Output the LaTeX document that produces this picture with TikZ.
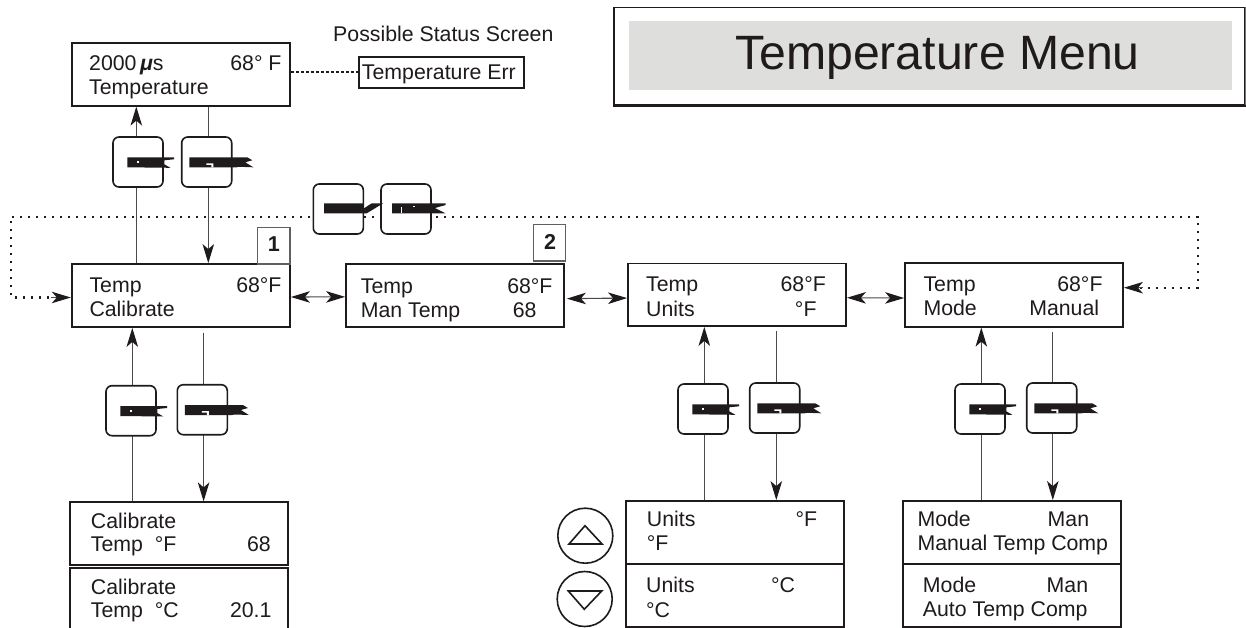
\documentclass[tikz,border=0pt]{standalone}
\usepackage{fontspec}
\setmainfont{Liberation Sans}
\usetikzlibrary{arrows.meta,calc}
\definecolor{ink}{HTML}{1F1B1C}
\definecolor{panel}{HTML}{DEDFDD}
\tikzset{
  lcd/.style={draw=ink,line width=1.8pt,fill=white,inner sep=0pt},
  numbox/.style={draw=ink!70,line width=1.1pt,fill=white,inner sep=0pt,font=\fontsize{21.5}{24}\selectfont\bfseries,text=ink},
  keybox/.style={draw=ink,line width=1.6pt,fill=white,rounded corners=6pt,minimum width=50pt,minimum height=50pt,inner sep=0pt},
  roundkey/.style={draw=ink,line width=1.6pt,fill=white,circle,minimum size=55pt,inner sep=0pt},
  lbl/.style={text=ink,inner sep=0pt,font=\fontsize{21.3}{24}\selectfont},
  flow/.style={draw=ink!80,line width=1.1pt},
  tip/.style={-{Stealth[length=19pt,width=11.5pt,inset=5pt,color=ink]}},
  bothtip/.style={{Stealth[length=19pt,width=11.5pt,inset=5pt,color=ink]}-{Stealth[length=19pt,width=11.5pt,inset=5pt,color=ink]}},
  loopline/.style={draw=ink,line width=2.2pt,dash pattern=on 2.2pt off 5.8pt},
  blob/.style={fill=ink,draw=none},
  speck/.style={fill=white,draw=none},
  tri/.style={draw=ink,line width=1.6pt,line join=miter}
}
\newcommand{\panelbox}[5]{\node[lcd,minimum width=#4pt-#2pt,minimum height=#5pt-#3pt] (#1) at ({(#2+#4)/2},{(#3+#5)/2}) {};}
\newcommand{\ltxt}[4]{\node[lbl,anchor=base west] (#1) at (#2,#3) {#4};}
\newcommand{\rtxt}[4]{\node[lbl,anchor=base east] (#1) at (#2,#3) {#4};}
\newcommand{\keyA}[3]{%
  \node[keybox] (#1) at ({#2+25},{#3+25}) {};
  \fill[blob,shift={(#2+14.3,#3+20.3)}] (0,0) -- (46.7,0) -- (46.7,2) -- (37,3) -- (37,7) -- (43,10.5) -- (0,10) -- cycle;
  \fill[speck,shift={(#2+14.3,#3+20.3)}] (10,4) rectangle (12,6);
}
\newcommand{\keyB}[3]{%
  \node[keybox] (#1) at ({#2+25},{#3+25}) {};
  \fill[blob,shift={(#2+7.6,#3+20.3)}] (0,0) -- (58,0) -- (63,3) -- (56,5) -- (64,10) -- (50,9.5) -- (47,10) -- (0,10) -- cycle;
  \fill[speck,shift={(#2+7.6,#3+20.3)}] (17,6) -- (24,6) -- (24,10) -- (22,10) -- (22,7.5) -- (17,7.5) -- cycle;
}
\begin{document}
\begin{tikzpicture}[x=1pt,y=-1pt]
\clip (0,0) rectangle (1246,628);
\fill[white] (0,0) rectangle (1246,628);
% title
\node[draw=ink,line width=1.4pt,minimum width=631pt,minimum height=97.4pt,inner sep=0pt] (titleframe) at (929.5,56) {};
\draw[ink,line width=2.4pt] (titleframe.south west) -- (titleframe.south east);
\draw[ink!60,line width=1.4pt] (titleframe.north east) -- (titleframe.south east);
\node[fill=panel,minimum width=603pt,minimum height=69pt,inner sep=0pt] (titlepanel) at (930.5,55.5) {};
\node[text=ink,inner sep=0pt,anchor=base,font=\fontsize{48.2}{50}\selectfont] (titletext) at (937.5,70) {Temperature Menu};
% screens
\panelbox{top}{72}{43}{290}{105.7}
\panelbox{status}{358.7}{56.7}{523.7}{88}
\panelbox{tempcal}{71.7}{264}{290}{327}
\panelbox{tempman}{346}{264}{564}{326.7}
\panelbox{tempunits}{628}{263.5}{846}{326}
\panelbox{tempmode}{905}{263.3}{1123}{326.7}
\panelbox{calF}{70}{502.3}{288.3}{564.6}
\panelbox{calC}{70}{568}{288.3}{640}
\panelbox{unitF}{626}{501}{844}{563.7}
\panelbox{unitC}{626}{563.7}{844}{627}
\panelbox{modeM}{902.7}{501}{1121}{564.3}
\panelbox{modeA}{902.7}{564.3}{1121}{626.7}
% number tags
\node[numbox,minimum width=32.3pt,minimum height=36.3pt] (tagone) at (273.8,245.8) {};
\node[numbox,minimum width=32pt,minimum height=36.3pt] (tagtwo) at (549.7,242.8) {};
\node[numbox,draw=none,fill=none,anchor=base] (tagonetxt) at (273.8,251.7) {1};
\node[numbox,draw=none,fill=none,anchor=base] (tagtwotxt) at (550,250) {2};
% vertical rails
\coordinate (r1) at (136.3,0); \coordinate (r2) at (208.3,0);
\coordinate (r3) at (132.3,0); \coordinate (r4) at (203.6,0);
\coordinate (r5) at (704.3,0); \coordinate (r6) at (776.3,0);
\coordinate (r7) at (981.3,0); \coordinate (r8) at (1052.8,0);
\draw[flow,tip] (r1 |- tempcal.north) -- (r1 |- top.south);
\draw[flow,tip] (r2 |- top.south) -- (r2 |- tempcal.north);
\draw[flow,tip] (r3 |- calF.north) -- (r3 |- tempcal.south);
\draw[flow,tip] ([yshift=-5pt]r4 |- tempcal.south) -- (r4 |- calF.north);
\draw[flow,tip] (r5 |- unitF.north) -- (r5 |- tempunits.south);
\draw[flow,tip] ([yshift=-4pt]r6 |- tempunits.south) -- (r6 |- unitF.north);
\draw[flow,tip] (r7 |- modeM.north) -- (r7 |- tempmode.south);
\draw[flow,tip] ([yshift=-4pt]r8 |- tempmode.south) -- (r8 |- modeM.north);
% horizontal links
\draw[flow,bothtip] ([yshift=-1.5pt]tempcal.east) -- ([yshift=-1.5pt]tempman.west);
\draw[flow,bothtip] ([xshift=2pt,yshift=-3.3pt]tempman.east) -- ([yshift=-3.3pt]tempunits.west);
\draw[flow,bothtip] ([yshift=-3pt]tempunits.east) -- ([yshift=-3pt]tempmode.west);
\draw[ink,line width=2pt,dash pattern=on 3.2pt off 1.8pt] (top.east |- status.west) -- (status.west);
% dotted loop
\coordinate (loopNE) at (1197.7,216.7);
\coordinate (loopNW) at (11,216.7);
\coordinate (loopE) at ([yshift=7.3pt]tempmode.east);
\coordinate (loopW) at ([yshift=-2pt]tempcal.west);
\draw[loopline] (1140,0 |- loopE) -- (loopE -| loopNE) -- (loopNE) -- (loopNW) -- (loopNW |- loopW) -- (50,0 |- loopW);
\draw[flow,{Stealth[length=19pt,width=11.5pt,inset=5pt,color=ink]}-] (loopE) -- +(19,0);
\draw[flow,-{Stealth[length=19pt,width=11.5pt,inset=5pt,color=ink]}] (51,0 |- loopW) -- (loopW);
% keys
\keyA{upA}{113}{137}
\keyB{upB}{181.7}{137}
\keyA{calA}{106}{385.7}
\keyB{calB}{177.3}{384.7}
\keyA{unA}{678}{384}
\keyB{unB}{749.7}{383}
\keyA{moA}{955}{384}
\keyB{moB}{1026.7}{383}
\node[keybox] (menuA) at (338.3,209) {};
\node[keybox] (menuB) at (406,209) {};
\fill[blob] (324,203.3) -- (363,203.3) -- (363,209) -- (371.7,203.3) -- (383.3,203.3) -- (366.7,213.3) -- (324,213.3) -- cycle;
\fill[blob] (392,203.3) -- (445.7,203.3) -- (445.7,205) -- (435,208) -- (445.7,213.5) -- (392,213.3) -- cycle;
\fill[speck] (401,207) rectangle (402.2,213.3);
\fill[speck] (413,206) rectangle (415,207);
% round keys
\node[roundkey] (keyup) at (585.3,535.7) {};
\node[roundkey] (keydown) at (584.7,599) {};
\draw[tri] (569,544) -- (585,525.7) -- (602,544) -- cycle;
\draw[tri] (568.3,591) -- (601.7,591) -- (584.3,609.3) -- cycle;
% texts
\ltxt{hdr}{333}{41.7}{Possible Status Screen}
\ltxt{topa}{89}{71}{2000\,{\itshape\bfseries μ}s}
\rtxt{topb}{281.7}{71}{68° F}
\ltxt{topc}{89}{95}{Temperature}
\ltxt{errt}{361.7}{79.3}{Temperature Err}
\ltxt{ca}{89.3}{292.7}{Temp}
\rtxt{cb}{281.7}{292.7}{68°F}
\ltxt{cc}{89.3}{316.7}{Calibrate}
\ltxt{ma}{360.7}{293.3}{Temp}
\rtxt{mb}{552.7}{293.3}{68°F}
\ltxt{mc}{360.7}{317.3}{Man Temp}
\rtxt{md}{536.7}{317.3}{68}
\ltxt{ua}{646}{291.7}{Temp}
\rtxt{ub}{826}{291.7}{68°F}
\ltxt{uc}{646}{316}{Units}
\rtxt{ud}{816.7}{316}{°F}
\ltxt{oa}{923.3}{291.7}{Temp}
\rtxt{ob}{1102.7}{291.7}{68°F}
\ltxt{oc}{923.3}{315.7}{Mode}
\rtxt{od}{1099.3}{315.7}{Manual}
\ltxt{fa}{90.7}{528.3}{Calibrate}
\ltxt{fb}{90.7}{551.7}{Temp\ \ °F}
\rtxt{fc}{271}{551.7}{68}
\ltxt{ga}{90.7}{594}{Calibrate}
\ltxt{gb}{90.7}{617.7}{Temp\ \ °C}
\rtxt{gc}{271.7}{617.7}{20.1}
\ltxt{ha}{646.7}{526.7}{Units}
\rtxt{hb}{817.3}{526.7}{°F}
\ltxt{hc}{646.7}{550.7}{°F}
\ltxt{ia}{646}{592.7}{Units}
\rtxt{ib}{795.3}{592.7}{°C}
\ltxt{ic}{646}{617.7}{°C}
\ltxt{ja}{917.3}{526}{Mode}
\rtxt{jb}{1089.3}{526}{Man}
\ltxt{jc}{917.3}{550}{Manual Temp Comp}
\ltxt{ka}{922.7}{592.7}{Mode}
\rtxt{kb}{1088.3}{592.7}{Man}
\ltxt{kc}{922.7}{616.7}{Auto Temp Comp}
\end{tikzpicture}
\end{document}
